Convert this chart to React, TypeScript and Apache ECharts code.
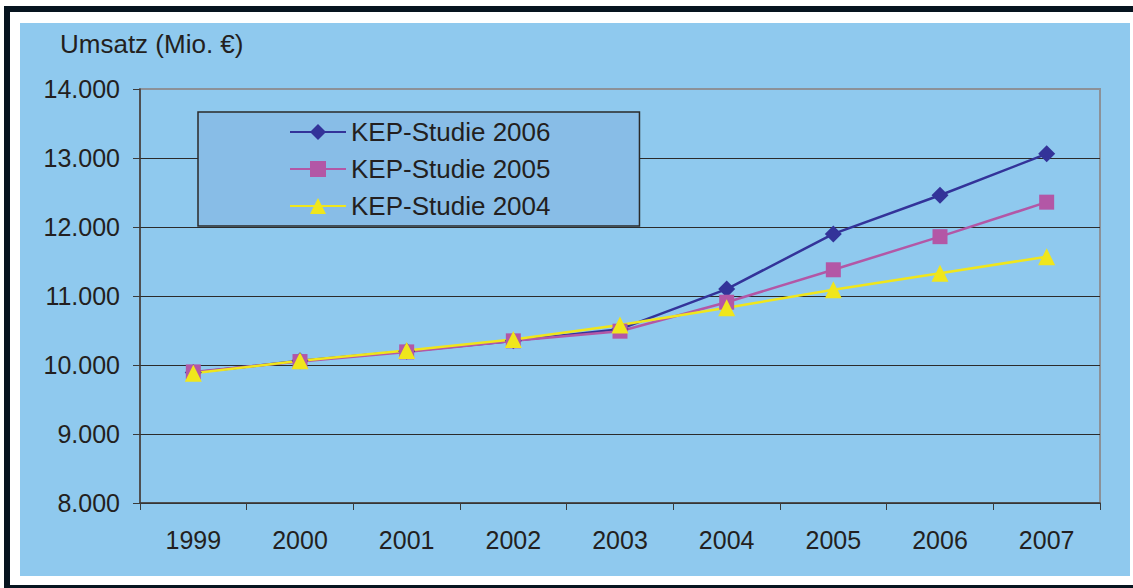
import React, { useEffect, useRef } from "react";
import * as echarts from "echarts";

const years = ["1999", "2000", "2001", "2002", "2003", "2004", "2005", "2006", "2007"];
const studie2006 = [9890, 10060, 10200, 10350, 10520, 11100, 11900, 12460, 13060];
const studie2005 = [9900, 10050, 10190, 10350, 10490, 10910, 11380, 11860, 12360];
const studie2004 = [9880, 10060, 10210, 10370, 10580, 10830, 11090, 11330, 11570];
const seriesNames = ["KEP-Studie 2006", "KEP-Studie 2005", "KEP-Studie 2004"];
const yTitle = "Umsatz (Mio. €)";

const FONT = "'Liberation Sans', Arial, sans-serif";
const TEXT = "#231F20";
const BLUE_BG = "#8FC9EE";

function fmt(v: number): string {
  const s = Math.round(v).toString();
  return s.replace(/\B(?=(\d{3})+(?!\d))/g, ".");
}

export default function App() {
  const ref = useRef<HTMLDivElement>(null);
  useEffect(() => {
    if (!ref.current) return;
    const chart = echarts.init(ref.current, null, { renderer: "svg" });
    const mk = (name: string, data: number[], color: string, symbol: string, size: number) => ({
      name,
      type: "line",
      data,
      symbol,
      symbolSize: size,
      lineStyle: { color, width: 2.5 },
      itemStyle: { color },
      emphasis: { disabled: true },
    });
    chart.setOption({
      animation: false,
      backgroundColor: "#ffffff",
      graphic: [
        { type: "rect", z: -100, silent: true, shape: { x: 4, y: 6, width: 1200, height: 600 }, style: { fill: "#06141F" } },
        { type: "rect", z: -99, silent: true, shape: { x: 10, y: 12, width: 1200, height: 573 }, style: { fill: "#ffffff" } },
        { type: "rect", z: -98, silent: true, shape: { x: 20, y: 23, width: 1110, height: 553 }, style: { fill: BLUE_BG } },
      ],
      title: {
        text: yTitle,
        left: 60,
        top: 31,
        padding: 0,
        textStyle: { fontFamily: FONT, fontSize: 26, fontWeight: "normal", color: TEXT },
      },
      legend: {
        orient: "vertical",
        left: 198,
        top: 112,
        width: 442,
        padding: [7, 89, 7, 91],
        itemWidth: 56,
        itemHeight: 20,
        itemGap: 11,
        backgroundColor: "#88BDE7",
        borderColor: "#2a2a2a",
        borderWidth: 1.5,
        selectedMode: false,
        data: seriesNames,
        textStyle: { fontFamily: FONT, fontSize: 26, color: TEXT },
      },
      grid: {
        left: 140,
        top: 89,
        right: 33,
        bottom: 85,
        show: true,
        backgroundColor: BLUE_BG,
        borderColor: "#8C9198",
        borderWidth: 2,
      },
      xAxis: {
        type: "category",
        data: years,
        boundaryGap: true,
        axisLine: { lineStyle: { color: "#3a3a3a", width: 1.5 } },
        axisTick: { show: true, length: 7, lineStyle: { color: "#3a3a3a", width: 1 } },
        axisLabel: { margin: 24, fontFamily: FONT, fontSize: 25, color: TEXT },
        splitLine: { show: false },
      },
      yAxis: {
        type: "value",
        min: 8000,
        max: 14000,
        interval: 1000,
        axisLine: { show: true, lineStyle: { color: "#3a3a3a", width: 1.5 } },
        axisTick: { show: true, length: 7, lineStyle: { color: "#3a3a3a", width: 1 } },
        axisLabel: { margin: 20, fontFamily: FONT, fontSize: 25, color: TEXT, formatter: (v: number) => fmt(v) },
        splitLine: {
          show: true,
          lineStyle: {
            color: ["#2b2b2b", "#2b2b2b", "#2b2b2b", "#2b2b2b", "#2b2b2b", "#2b2b2b", "#8C9198"],
            width: 1.2,
          },
        },
      },
      series: [
        mk(seriesNames[0], studie2006, "#333399", "diamond", 17),
        mk(seriesNames[1], studie2005, "#B357A6", "rect", 15),
        mk(seriesNames[2], studie2004, "#F0E61C", "triangle", 17),
      ],
    });
    return () => chart.dispose();
  }, []);
  return (
    <div
      ref={ref}
      style={{ position: "fixed", left: 0, top: 0, width: 1133, height: 588 }}
    />
  );
}
